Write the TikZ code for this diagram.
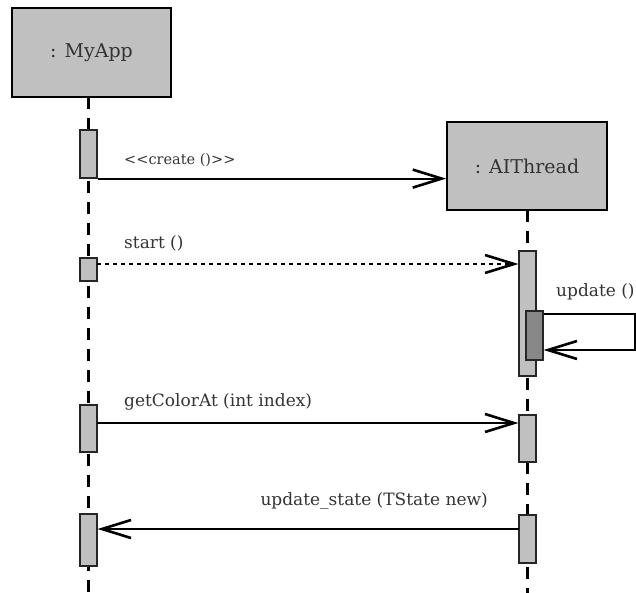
\documentclass[tikz,border=0pt]{standalone}
\usepackage{fontspec}
\setmainfont[Ligatures=NoCommon]{DejaVu Serif}
\usetikzlibrary{arrows.meta}
\definecolor{actfill}{HTML}{C0C0C0}
\definecolor{nestfill}{HTML}{888888}
\definecolor{txt}{HTML}{333333}
\tikzset{
  objbox/.style={draw=black, line width=1.8bp, fill=actfill, minimum width=159bp, minimum height=89bp, inner sep=0pt, text=txt, font=\fontsize{19bp}{22bp}\selectfont},
  actbox/.style={draw=black!85, line width=1.2bp, fill=actfill, minimum width=17bp, inner sep=0pt},
  nestbox/.style={actbox, fill=nestfill},
  lifeline/.style={line width=3bp, dash pattern=on 12bp off 9bp},
  tip/.style={-{Straight Barb[length=29bp,width=18bp,line width=2.6bp]}},
  msg/.style={tip, line width=1.8bp},
  retmsg/.style={tip, line width=1.8bp, dash pattern=on 4bp off 4bp},
  selfmsg/.style={tip, line width=1.4bp},
  lbl/.style={text=txt, inner sep=0pt, font=\fontsize{17bp}{20bp}\selectfont},
  slbl/.style={text=txt, inner sep=0pt, font=\fontsize{14.5bp}{17bp}\selectfont}
}
\begin{document}
\begin{tikzpicture}[x=1bp, y=-1bp]
\useasboundingbox (0,0) rectangle (636,593);
% objects
\node[objbox] (myapp) at (91.5,52.5) {: MyApp};
\node[objbox, minimum width=160bp, minimum height=88bp] (ait) at (527,166) {: AIThread};
% lifeline ends
\coordinate (myappTop) at (88,97);
\coordinate (myappEnd) at (88,593);
\coordinate (aitTop) at (527,210);
\coordinate (aitEnd) at (527,593);
\draw[lifeline] (myappTop) -- (myappEnd);
\draw[lifeline] (aitTop) -- (aitEnd);
% activations MyApp
\node[actbox, minimum height=48bp] (a1) at (88.5,154) {};
\node[actbox, minimum height=23bp] (a2) at (88.5,269.5) {};
\node[actbox, minimum height=47bp] (a3) at (88.5,428.5) {};
\node[actbox, minimum height=52bp] (a4) at (88.5,540) {};
% activations AIThread
\node[actbox, minimum height=125bp] (b1) at (527.5,313.5) {};
\node[nestbox, minimum height=49bp] (b2) at (534.5,335.5) {};
\node[actbox, minimum height=47bp] (b3) at (527.5,438.5) {};
\node[actbox, minimum height=48bp] (b4) at (527.5,539) {};
% messages
\draw[msg] (a1.south east) -- (a1.south east -| ait.west);
\node[slbl, anchor=west] (lcreate) at (124,160) {{<}{<}create (){>}{>}};
\coordinate (s1) at (97,264);
\draw[retmsg] (s1) -- (s1 -| b1.west);
\node[lbl, anchor=west] (lstart) at (124,243) {start ()};
\coordinate (sr) at (635,314);
\coordinate (sb) at (635,350);
\draw[selfmsg] (sr -| b2.east) -- (sr) -- (sb) -- (sb -| b2.east);
\node[lbl, anchor=west] (lupdate) at (556,292) {update ()};
\coordinate (g1) at (97,423);
\draw[msg] (g1) -- (g1 -| b3.west);
\node[lbl, anchor=west] (lget) at (124,402) {getColorAt (int index)};
\coordinate (u1) at (519,529);
\draw[msg] (u1) -- (u1 -| a4.east);
\node[lbl, anchor=east] (lupd) at (488,501) {update\_state (TState new)};
\end{tikzpicture}
\end{document}
